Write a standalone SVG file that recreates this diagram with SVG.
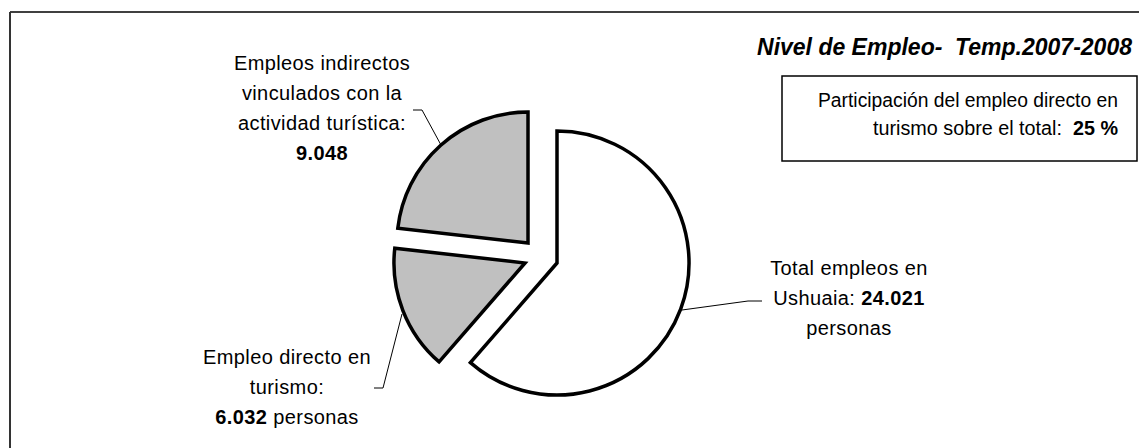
<svg xmlns="http://www.w3.org/2000/svg" width="1139" height="448" viewBox="0 0 1139 448">
<style>
.lbl{font-family:"Liberation Sans",Arial,sans-serif;font-size:20px;fill:#000;letter-spacing:0.4px}
.b{font-weight:bold}
.slice{stroke:#000;stroke-width:3.5;stroke-linejoin:miter}
.lead{fill:none;stroke:#000;stroke-width:1}
.title{font-family:"Liberation Sans",Arial,sans-serif;font-size:23px;font-weight:bold;font-style:italic;white-space:pre}
.box{font-family:"Liberation Sans",Arial,sans-serif;font-size:20px}
</style>
<rect x="0" y="0" width="1139" height="448" fill="#fff"/>
<g id="frame">
<line x1="10" y1="12" x2="1139" y2="12" stroke="#000" stroke-width="1.5"/>
<line x1="10" y1="12" x2="10" y2="448" stroke="#333" stroke-width="2"/>
</g>
<g id="title">
<text class="title" x="1132" y="55" text-anchor="end" xml:space="preserve">Nivel de Empleo-  Temp.2007-2008</text>
</g>
<g id="note">
<rect x="782" y="76" width="355" height="85" fill="#fff" stroke="#000" stroke-width="1.5"/>
<text class="box" x="1118" y="107" text-anchor="end" textLength="300" lengthAdjust="spacingAndGlyphs">Participación del empleo directo en</text>
<text class="box" x="1118" y="135" text-anchor="end" textLength="245" lengthAdjust="spacingAndGlyphs" xml:space="preserve">turismo sobre el total:  <tspan class="b">25 %</tspan></text>
</g>
<g id="slice-total">
<path class="slice" fill="#fff" d="M557,263 L557,131 A132,132 0 1 1 470.4,362.6 Z"/>
</g>
<g id="slice-directo">
<path class="slice" fill="#c0c0c0" d="M525,263 L439.1,361.9 A131,131 0 0 1 394.8,248.2 Z"/>
</g>
<g id="slice-indirecto">
<path class="slice" fill="#c0c0c0" d="M528,243 L397.8,228.2 A131,131 0 0 1 528,112 Z"/>
</g>
<g id="connectors">
<polyline class="lead" points="413,110 422,110 441,145"/>
<polyline class="lead" points="402,314 383,388 374,388"/>
<polyline class="lead" points="682,310 748,301 762,301"/>
</g>
<g id="label-indirecto">
<text class="lbl" x="322" y="70" text-anchor="middle">Empleos indirectos</text>
<text class="lbl" x="322" y="100" text-anchor="middle">vinculados con la</text>
<text class="lbl" x="322" y="130" text-anchor="middle">actividad turística:</text>
<text class="lbl b" x="322" y="160" text-anchor="middle">9.048</text>
</g>
<g id="label-directo">
<text class="lbl" x="287" y="364" text-anchor="middle">Empleo directo en</text>
<text class="lbl" x="287" y="394" text-anchor="middle">turismo:</text>
<text class="lbl" x="287" y="424" text-anchor="middle"><tspan class="b">6.032</tspan> personas</text>
</g>
<g id="label-total">
<text class="lbl" x="849" y="275" text-anchor="middle">Total empleos en</text>
<text class="lbl" x="849" y="305" text-anchor="middle">Ushuaia: <tspan class="b">24.021</tspan></text>
<text class="lbl" x="849" y="335" text-anchor="middle">personas</text>
</g>
</svg>
